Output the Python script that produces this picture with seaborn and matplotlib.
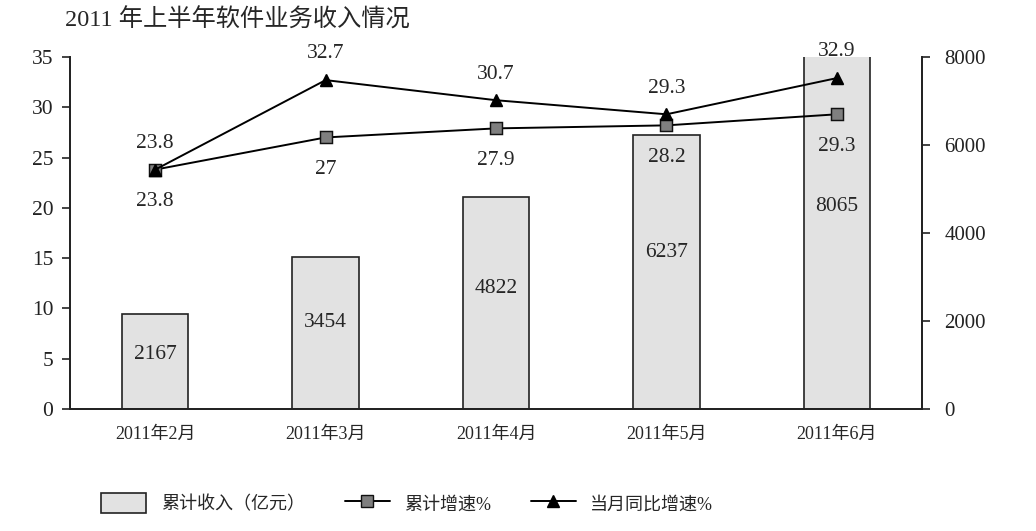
import matplotlib
matplotlib.use("Agg")
import matplotlib.pyplot as plt
import seaborn as sns
import pandas as pd
from matplotlib.patches import Patch
from matplotlib.lines import Line2D

# data
months = ["2011年2月", "2011年3月", "2011年4月", "2011年5月", "2011年6月"]
revenue = [2167, 3454, 4822, 6237, 8065]          # 累计收入（亿元）
cum_growth = [23.8, 27, 27.9, 28.2, 29.3]         # 累计增速%
month_growth = [23.8, 32.7, 30.7, 29.3, 32.9]     # 当月同比增速%

sns.set_style("white")
plt.rcParams["font.family"] = ["Liberation Serif", "Noto Sans CJK SC"]

df = pd.DataFrame({"month": months, "revenue": revenue,
                   "cum": cum_growth, "mon": month_growth})

fig = plt.figure(figsize=(10.36, 5.31), dpi=100)
ax = fig.add_axes([0.0676, 0.2298, 0.8224, 0.6629])

# bars on the right-hand scale
sns.barplot(data=df, x="month", y="revenue", ax=ax, color="#e2e2e2",
            edgecolor="#222222", linewidth=1.2, width=0.39, saturation=1)
ax.set_ylim(0, 8000)
ax.set_yticks([0, 2000, 4000, 6000, 8000])
ax.set_xlim(-0.5, 4.5)
for i, v in enumerate(revenue):
    ax.text(i, v * 0.57, str(v), ha="center", va="center", fontsize=15.5)

# growth lines on the left-hand scale
ax2 = ax.twinx()
ax.yaxis.tick_right()
ax2.yaxis.tick_left()
sns.pointplot(data=df, x="month", y="cum", ax=ax2, color="black",
              markers="s", markersize=9, linewidth=1.4,
              markerfacecolor="#7f7f7f", markeredgecolor="#111111")
sns.pointplot(data=df, x="month", y="mon", ax=ax2, color="black",
              markers="^", markersize=9, linewidth=1.4)
ax2.set_ylim(0, 35)
ax2.set_yticks(range(0, 36, 5))
ax2.set_xlim(-0.5, 4.5)
for i, v in enumerate(cum_growth):
    ax2.annotate(f"{v:g}", (i, v), xytext=(0, -16), textcoords="offset points",
                 ha="center", va="top", fontsize=15.5)
for i, v in enumerate(month_growth):
    ax2.annotate(f"{v:g}", (i, v), xytext=(0, 12), textcoords="offset points",
                 ha="center", va="bottom", fontsize=15.5)

for a in (ax, ax2):
    a.set_xlabel("")
    a.set_ylabel("")
    a.spines["top"].set_visible(False)
    for s in ("left", "right", "bottom"):
        a.spines[s].set_color("#222222")
        a.spines[s].set_linewidth(1.3)
ax.tick_params(axis="y", direction="out", length=6, width=1.2, colors="#222222",
               labelsize=15, pad=10, left=False, labelleft=False,
               right=True, labelright=True)
ax2.tick_params(axis="y", direction="out", length=6, width=1.2, colors="#222222",
                labelsize=15.5, pad=6, right=False, labelright=False,
                left=True, labelleft=True)
ax.tick_params(axis="x", length=0, labelsize=13, pad=12)
ax2.tick_params(axis="x", length=0, labelbottom=False)
ax.set_xticks(range(len(months)))
ax.set_xticklabels(months)

fig.text(0.063, 0.962, "2011 年上半年软件业务收入情况", fontsize=17.5,
         ha="left", va="center")

handles = [
    Patch(facecolor="#e2e2e2", edgecolor="#222222", linewidth=1.2),
    Line2D([], [], color="black", marker="s", markersize=9, lw=1.4,
           markerfacecolor="#7f7f7f", markeredgecolor="#111111"),
    Line2D([], [], color="black", marker="^", markersize=9, lw=1.4),
]
labels = ["累计收入（亿元）", "累计增速%", "当月同比增速%"]
fig.legend(handles, labels, loc="center left", bbox_to_anchor=(0.082, 0.052),
           ncol=3, frameon=False, fontsize=13, handlelength=2.5,
           handleheight=1.3, handletextpad=0.8, columnspacing=2.2)

fig.savefig("out.png", dpi=100)
